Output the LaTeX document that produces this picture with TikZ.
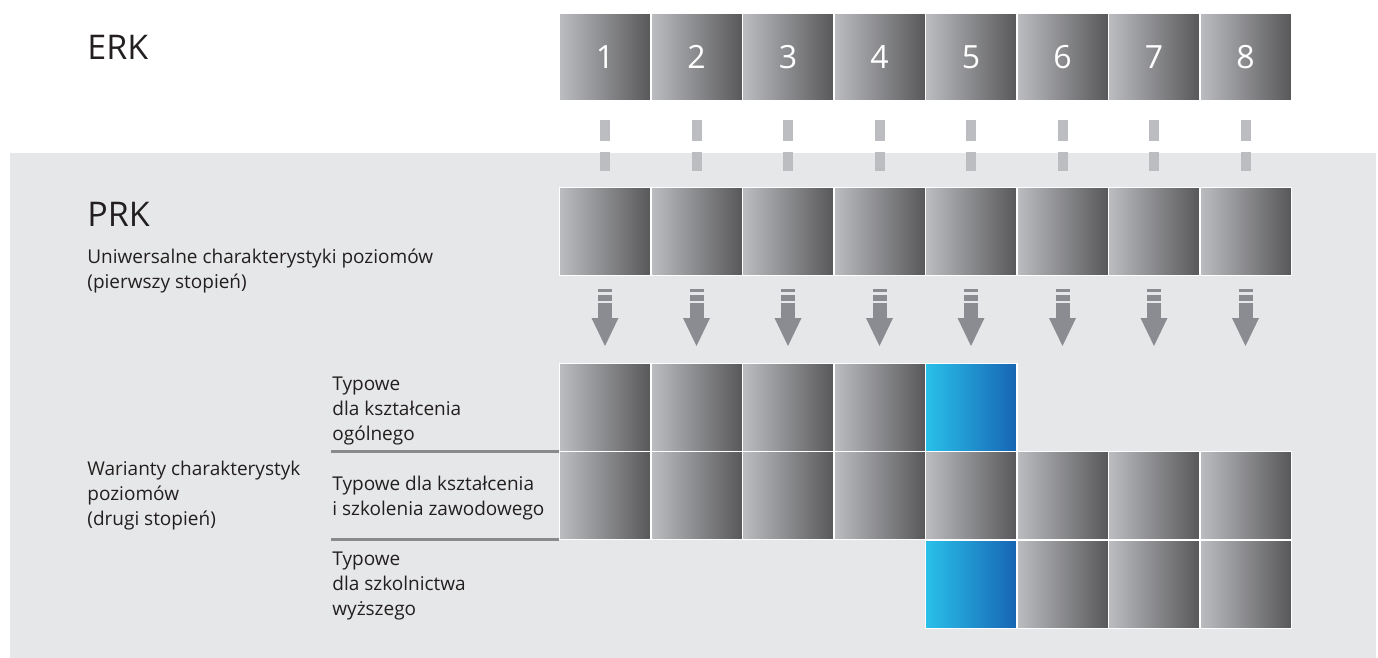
\documentclass[tikz,border=0pt]{standalone}
\usepackage{fontspec}
\setmainfont{Open Sans}
\usepackage{tikz}
\usepackage{xcolor}
\usetikzlibrary{arrows.meta}
\definecolor{panel-gray}{HTML}{E6E7E8}
\definecolor{box-light}{HTML}{BCBDC1}
\definecolor{box-dark}{HTML}{58585A}
\definecolor{blue-light}{HTML}{29C1EA}
\definecolor{blue-dark}{HTML}{1764B3}
\definecolor{link-gray}{HTML}{BCBDC0}
\definecolor{arrow-gray}{HTML}{8B8C92}
\definecolor{rule-gray}{HTML}{8A8A8C}
\definecolor{label-text}{HTML}{231F20}
\tikzset{
    level-box/.style = {rectangle, draw=white, line width=0.75pt, minimum width=45.75pt, minimum height=44pt, inner sep=0pt, outer sep=0pt, left color=box-light, right color=box-dark},
    blue-box/.style = {level-box, left color=blue-light, right color=blue-dark},
    level-number/.style = {text=white, font=\fontsize{16}{19}\selectfont},
    frame-title/.style = {anchor=base west, inner sep=0pt, text=label-text, font=\fontsize{17}{21}\selectfont},
    frame-note/.style = {anchor=base west, inner sep=0pt, align=left, text=label-text, font=\fontsize{9.5}{12.5}\selectfont},
    dash-link/.style = {link-gray, line width=5pt, dash pattern=on 10.5pt off 5.5pt, shorten <=9.5pt, shorten >=8pt},
    level-arrow/.style = {arrow-gray, line width=7pt, dash pattern=on 1.5pt off 1.5pt on 3pt off 1pt on 40pt, shorten <=6.75pt, -{Triangle[length=14pt, width=13.5pt, line width=0pt]}},
    rule-line/.style = {rule-gray, line width=1.25pt},
}
\begin{document}
\begin{tikzpicture}[x=0.5pt, y=-0.5pt]
\useasboundingbox (0,0) rectangle (1378,658);
\fill[panel-gray] (10,153) rectangle (1376,658);

% ERK, PRK and the full middle row
\foreach \i in {1,...,8} {
    \node[level-box, level-number] (erk\i) at ({605+91.5*(\i-1)},57) {\i};
    \node[level-box] (prk\i) at ({605+91.5*(\i-1)},231.5) {};
    \node[level-box] (mid\i) at ({605+91.5*(\i-1)},495.5) {};
    \coordinate (tip\i) at ({605+91.5*(\i-1)},346);
    \draw[dash-link] (erk\i) -- (prk\i);
    \draw[level-arrow] (prk\i) -- (tip\i);
}

% general and higher education rows
\foreach \i in {1,...,4}
    \node[level-box] (top\i) at ({605+91.5*(\i-1)},407.5) {};
\node[blue-box] (top5) at (971,407.5) {};
\node[blue-box] (low5) at (971,584.5) {};
\foreach \i in {6,7,8}
    \node[level-box] (low\i) at ({605+91.5*(\i-1)},584.5) {};

\coordinate (rule-a) at (331,451.5);
\coordinate (rule-b) at (331,539.5);
\draw[rule-line] (rule-a) -- (top1.south west);
\draw[rule-line] (rule-b) -- (mid1.south west);

% labels (base = last line)
\node[frame-title] (erk-label) at (87,60) {ERK};
\node[frame-title] (prk-label) at (87,227) {PRK};
\node[frame-note] (first-level) at (87,288) {Uniwersalne charakterystyki poziomów\\(pierwszy stopień)};
\node[frame-note] (second-level) at (87,525) {Warianty charakterystyk\\poziomów\\(drugi stopień)};
\node[frame-note] (general-ed) at (332,440) {Typowe\\dla kształcenia\\ogólnego};
\node[frame-note] (vocational-ed) at (332,515) {Typowe dla kształcenia\\i szkolenia zawodowego};
\node[frame-note] (higher-ed) at (332,615) {Typowe\\dla szkolnictwa\\wyższego};
\end{tikzpicture}
\end{document}
